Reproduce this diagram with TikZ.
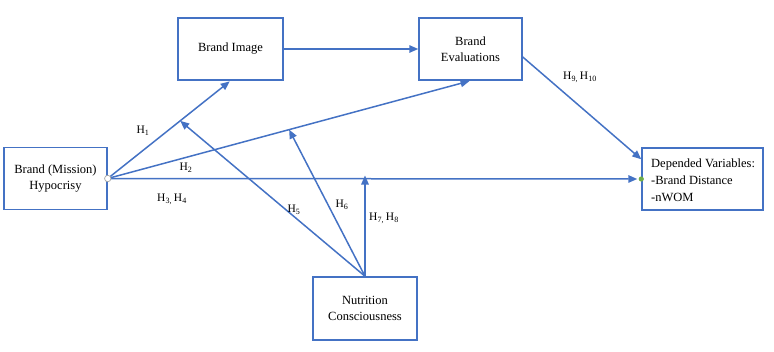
\documentclass[tikz,border=0pt]{standalone}
\usepackage{fontspec}
\setmainfont{Liberation Serif}
\usetikzlibrary{calc,arrows.meta}
\definecolor{lineblue}{RGB}{68,114,196}
\definecolor{dotgreen}{RGB}{112,173,71}
\tikzset{
  boxnode/.style={draw=lineblue,line width=1.5pt,inner sep=0pt,align=center,font=\fontsize{12.5}{16}\selectfont},
  conn/.style={draw=lineblue,line width=1.5pt,-{Triangle[length=9pt,width=7.5pt]}},
  hlabel/.style={font=\fontsize{11.5}{13}\selectfont,inner sep=0pt}
}
\begin{document}
\begin{tikzpicture}[x=1pt,y=-1pt]
\useasboundingbox (0,0) rectangle (774,351);
\node[boxnode,minimum width=103pt,minimum height=62pt] (hyp) at (55.5,178.5) {Brand (Mission)\\Hypocrisy};
\node[boxnode,minimum width=105pt,minimum height=62pt] (img) at (230.5,49) {Brand Image};
\node[boxnode,minimum width=103pt,minimum height=62pt] (eval) at (470.5,49) {Brand\\Evaluations};
\node[boxnode,minimum width=121pt,minimum height=62pt] (dep) at (702.5,179) {};
\node[font=\fontsize{12.5}{17}\selectfont,align=left,anchor=west,inner sep=0pt] (deptext) at (651,180) {Depended Variables:\\-Brand Distance\\-nWOM};
\node[boxnode,minimum width=104pt,minimum height=63pt] (nut) at (365,308.5) {Nutrition\\Consciousness};
\coordinate (hp) at (hyp.east);
\coordinate (m1) at ($(hp)!0.59!(img.south)$);
\coordinate (m2) at ($(hp)!0.5!(eval.south)$);
\coordinate (m3) at (nut.north |- hp);
\coordinate (evout) at ([yshift=-8pt]eval.east);
\coordinate (depin) at ([yshift=-12pt]dep.north west);
\draw[conn,shorten >=1pt] (hp) -- (img.south);
\draw[conn,shorten >=1pt] (hp) -- (eval.south);
\draw[conn,shorten >=4pt] (hp) -- (dep.west);
\draw[conn] (img.east) -- (eval.west);
\draw[conn] (evout) -- (depin);
\draw[conn] (nut.north) -- (m1);
\draw[conn] (nut.north) -- (m2);
\draw[conn,shorten >=-3pt] (nut.north) -- (m3);
\fill[white,draw=gray!70,line width=0.7pt] (hp) circle (3.2pt);
\fill[dotgreen] (dep.west) circle (2.6pt);
\node[hlabel] (l1) at (143,131) {H\textsubscript{1}};
\node[hlabel] (l2) at (186,168) {H\textsubscript{2}};
\node[hlabel] (l3) at (172,199) {H\textsubscript{3,}\,H\textsubscript{4}};
\node[hlabel] (l5) at (294,210) {H\textsubscript{5}};
\node[hlabel] (l6) at (342,205) {H\textsubscript{6}};
\node[hlabel] (l7) at (384,218) {H\textsubscript{7,}\,H\textsubscript{8}};
\node[hlabel] (l9) at (580,77) {H\textsubscript{9,}\,H\textsubscript{10}};
\end{tikzpicture}
\end{document}
